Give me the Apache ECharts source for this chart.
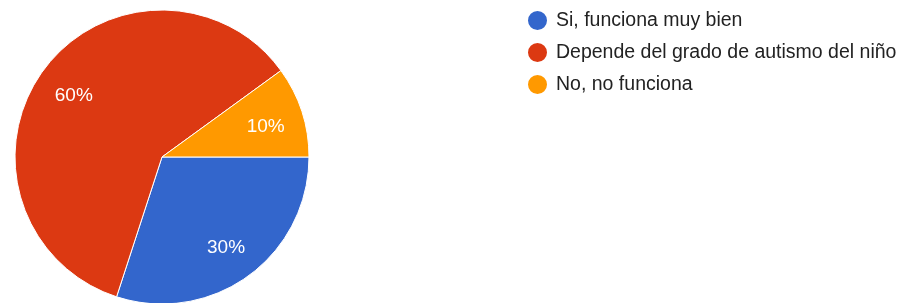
<!DOCTYPE html>
<html>
<head>
<meta charset="utf-8">
<script src="https://cdn.jsdelivr.net/npm/echarts@6/dist/echarts.min.js"></script>
<style>
  html, body { margin: 0; padding: 0; background: #fff; }
  #chart { width: 904px; height: 303px; }
</style>
</head>
<body>
<div id="chart"></div>
<script>
const categories = ["Si, funciona muy bien", "Depende del grado de autismo del niño", "No, no funciona"];
const values = [30, 60, 10];
const colors = ["#3366cc", "#dc3912", "#ff9900"];

document.addEventListener("DOMContentLoaded", function () {
  const myChart = echarts.init(document.getElementById("chart"));
  const data = categories.map(function (name, i) {
    return { name: name, value: values[i], itemStyle: { color: colors[i] } };
  });
  const option = {
    animation: false,
    textStyle: { fontFamily: "Liberation Sans" },
    legend: {
      orient: "vertical",
      left: 526,
      top: 9,
      padding: 0,
      icon: "circle",
      itemWidth: 21,
      itemHeight: 21,
      itemGap: 9,
      data: categories,
      textStyle: {
        color: "#222",
        fontSize: 19.5,
        lineHeight: 20,
        padding: [0, 0, 0, 3],
        fontFamily: "Liberation Sans",
      },
    },
    series: [
      {
        type: "pie",
        center: [162, 157],
        radius: [0, 147],
        startAngle: 0,
        clockwise: true,
        data: data,
        label: { show: false },
        labelLine: { show: false },
        itemStyle: { borderColor: "#fff", borderWidth: 1 },
      },
      {
        // transparent ring only used to place the percentage labels
        type: "pie",
        silent: true,
        center: [162, 157],
        radius: [65, 147],
        startAngle: 0,
        clockwise: true,
        data: data.map(function (d) {
          return { name: d.name, value: d.value, itemStyle: { color: "rgba(0,0,0,0)" } };
        }),
        label: {
          show: true,
          position: "inside",
          formatter: "{d}%",
          color: "#fff",
          fontSize: 19,
          fontFamily: "Liberation Sans",
          offset: [0, 3],
        },
        labelLine: { show: false },
        legendHoverLink: false,
      },
    ],
  };
  myChart.setOption(option);
});
</script>
</body>
</html>
